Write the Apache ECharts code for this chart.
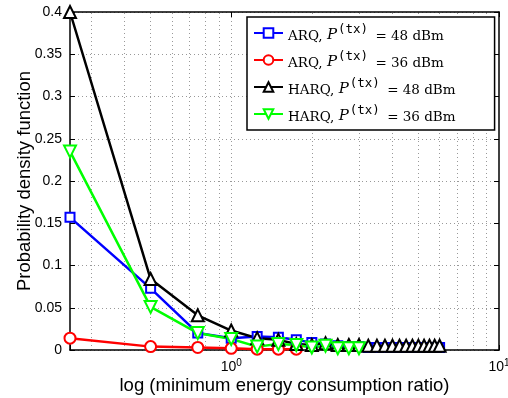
<!DOCTYPE html>
<html>
<head>
<meta charset="utf-8">
<script src="https://cdn.jsdelivr.net/npm/echarts@6/dist/echarts.min.js"></script>
<style>
  html, body { margin: 0; padding: 0; background: #fff; }
  #chart { width: 508px; height: 398px; }
</style>
</head>
<body>
<div id="chart"></div>
<script>
// x values (minimum energy consumption ratio)
const ratio = [0.25, 0.5, 0.75, 1.0, 1.25, 1.5, 1.75, 2.0, 2.25, 2.5, 2.75, 3.0,
               3.25, 3.5, 3.75, 4.0, 4.25, 4.5, 4.75, 5.0, 5.25, 5.5, 5.75, 6.0];

// pdf values
const arq48  = [0.157, 0.073, 0.020, 0.014, 0.016, 0.015, 0.012, 0.009, 0.007, 0.005, 0.004, 0.004,
                0.003, 0.003, 0.003, 0.003, 0.003, 0.003, 0.003, 0.003, 0.003, 0.003, 0.003, 0.003];
const arq36  = [0.014, 0.004, 0.003, 0.002, 0.001, 0.001, 0.001];
const harq48 = [0.400, 0.084, 0.041, 0.023, 0.014, 0.012, 0.007, 0.006, 0.008, 0.006, 0.006, 0.006,
                0.005, 0.005, 0.005, 0.005, 0.005, 0.005, 0.005, 0.005, 0.005, 0.005, 0.005, 0.005];
const harq36 = [0.235, 0.051, 0.020, 0.013, 0.004, 0.007, 0.006, 0.003, 0.005, 0.002, 0.002, 0.002];

const schemes = ["ARQ", "ARQ", "HARQ", "HARQ"];
const powers  = ["48", "36", "48", "36"];
const seriesNames = schemes.map((s, i) => s + ", P(tx) = " + powers[i] + " dBm");

// dotted vertical grid lines of the log axis
const xGridLines = [0.3, 0.4, 0.5, 0.6, 0.7, 0.8, 0.9, 1, 2, 3, 4, 5, 6, 7, 8, 9];

const pairs = (vals) => vals.map((v, i) => [ratio[i], v]);

const chart = echarts.init(document.getElementById("chart"));

const common = (color, symbol, size, rotate) => ({
    type: "line",
    symbol: symbol,
    symbolSize: size,
    symbolRotate: rotate || 0,
    showAllSymbol: true,
    lineStyle: { width: 2.5, color: color },
    itemStyle: { color: color, borderColor: color, borderWidth: 2.5 },
    emphasis: { disabled: true }
});

const option = {
    animation: false,
    backgroundColor: "#fff",
    textStyle: { fontFamily: "Liberation Sans" },
    grid: { left: 70, top: 12, right: 9, bottom: 48, show: false, outerBoundsMode: "none" },
    legend: {
        data: seriesNames,
        orient: "vertical",
        left: 247,
        top: 17,
        itemWidth: 29,
        itemHeight: 12,
        itemGap: 7,
        padding: [6, 39, 6, 6],
        backgroundColor: "#fff",
        borderColor: "#000",
        borderWidth: 1.5,
        borderRadius: 0,
        selectedMode: false,
        formatter: (name) => {
            const i = seriesNames.indexOf(name);
            return "{t|" + schemes[i] + ", }{p|P}{s|(tx)}{t| = " + powers[i] + " dBm}";
        },
        textStyle: {
            color: "#000",
            rich: {
                t: { fontFamily: "DejaVu Serif", fontSize: 13.5, color: "#000", verticalAlign: "bottom" },
                p: { fontFamily: "DejaVu Serif", fontStyle: "italic", fontSize: 15, color: "#000", verticalAlign: "bottom" },
                s: { fontFamily: "DejaVu Sans Mono", fontSize: 12.5, color: "#000", padding: [0, 3, 7, 1] }
            }
        }
    },
    xAxis: [{
        type: "log",
        logBase: 10,
        min: 0.25,
        max: 10,
        name: "log (minimum energy consumption ratio)",
        nameLocation: "middle",
        nameGap: 26,
        nameMoveOverlap: false,
        nameTextStyle: { fontSize: 18.5, color: "#000", fontFamily: "Liberation Sans" },
        axisLine: { onZero: false, lineStyle: { color: "#000", width: 1.5 } },
        axisTick: { inside: true, length: 5, lineStyle: { color: "#000" } },
        splitLine: { show: false },
        axisLabel: {
            color: "#000",
            fontSize: 14,
            margin: 8,
            formatter: (v) => {
                if (Math.abs(v - 1) < 1e-9) return "10{s|0}";
                if (Math.abs(v - 10) < 1e-9) return "10{s|1}";
                return "";
            },
            rich: { s: { fontSize: 10, padding: [0, 0, 9, 0], color: "#000" } }
        }
    }, {
        type: "log",
        logBase: 10,
        min: 0.25,
        max: 10,
        position: "top",
        axisLine: { onZero: false, lineStyle: { color: "#000", width: 1.5 } },
        axisTick: { inside: true, length: 5, lineStyle: { color: "#000" } },
        axisLabel: { show: false },
        splitLine: { show: false }
    }],
    yAxis: [{
        type: "value",
        min: 0,
        max: 0.4,
        interval: 0.05,
        name: "Probability density function",
        nameLocation: "middle",
        nameGap: 36,
        nameMoveOverlap: false,
        nameTextStyle: { fontSize: 18.5, color: "#000", fontFamily: "Liberation Sans" },
        axisLine: { show: true, onZero: false, lineStyle: { color: "#000", width: 1.5 } },
        axisTick: { show: true, inside: true, length: 5, lineStyle: { color: "#000" } },
        axisLabel: { color: "#000", fontSize: 14, margin: 8 },
        splitLine: { show: true, lineStyle: { type: [1, 3], color: "#999", width: 1 } }
    }, {
        type: "value",
        min: 0,
        max: 0.4,
        interval: 0.05,
        position: "right",
        axisLine: { show: true, onZero: false, lineStyle: { color: "#000", width: 1.5 } },
        axisTick: { show: true, inside: true, length: 5, lineStyle: { color: "#000" } },
        axisLabel: { show: false },
        splitLine: { show: false }
    }],
    series: [
        {
            type: "line",
            data: [],
            silent: true,
            z: 0,
            markLine: {
                silent: true,
                z: 0,
                symbol: "none",
                label: { show: false },
                lineStyle: { type: [1, 3], color: "#999", width: 1 },
                data: xGridLines.map((v) => ({ xAxis: v }))
            }
        },
        Object.assign(common("#0000ff", "emptyRect", 9), { name: seriesNames[0], data: pairs(arq48) }),
        Object.assign(common("#ff0000", "emptyCircle", 11), { name: seriesNames[1], data: pairs(arq36) }),
        Object.assign(common("#000000", "emptyTriangle", 12), { name: seriesNames[2], data: pairs(harq48) }),
        Object.assign(common("#00ff00", "emptyTriangle", 12, 180), { name: seriesNames[3], data: pairs(harq36) })
    ]
};

chart.setOption(option);
window.addEventListener("resize", () => chart.resize());
</script>
</body>
</html>
